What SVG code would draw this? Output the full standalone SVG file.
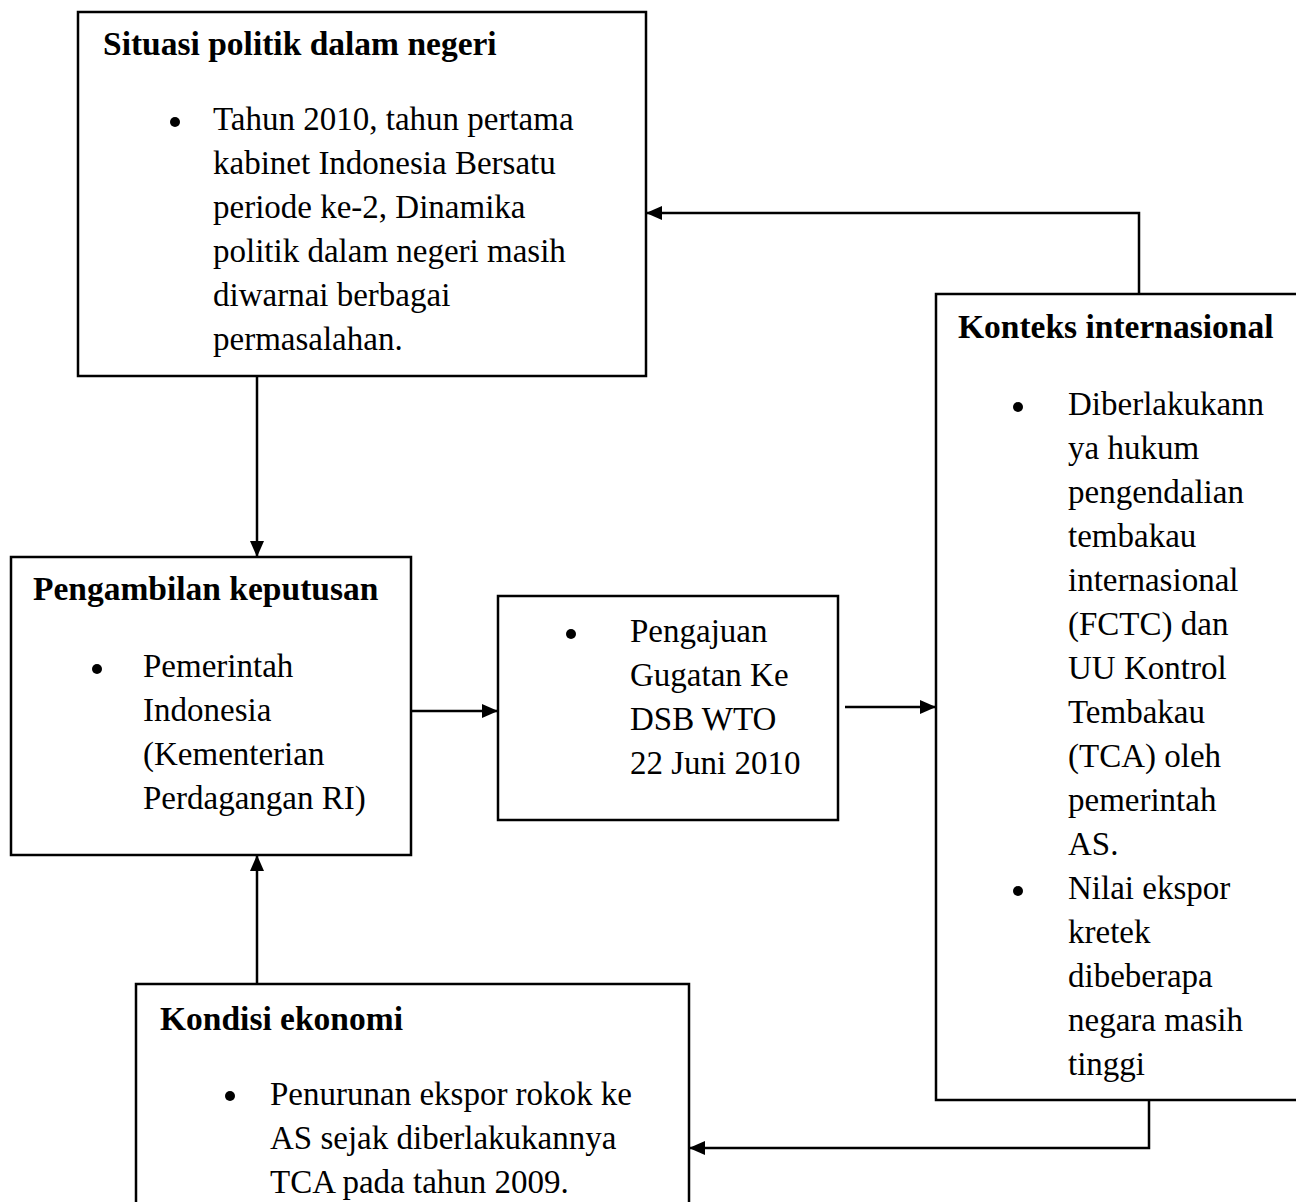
<svg xmlns="http://www.w3.org/2000/svg" width="1296" height="1202" viewBox="0 0 1296 1202">
<style>
.box{fill:#fff;stroke:#000;stroke-width:2.5}
.h{font-family:"Liberation Serif","Times New Roman",serif;font-weight:bold;font-size:33.5px;fill:#000}
.t{font-family:"Liberation Serif","Times New Roman",serif;font-size:33px;fill:#000}
.c{fill:none;stroke:#000;stroke-width:2.5}
</style>
<defs>
<marker id="ah" viewBox="0 0 16 14" refX="16" refY="7" markerWidth="16" markerHeight="14" markerUnits="userSpaceOnUse" orient="auto">
<path d="M0,0 L16,7 L0,14 z" fill="#000"/>
</marker>
</defs>
<rect width="1296" height="1202" fill="#fff"/>
<g id="connectors">
<path class="c" d="M257,376 V557" marker-end="url(#ah)"/>
<path class="c" d="M257,984 V855" marker-end="url(#ah)"/>
<path class="c" d="M411,711 H498" marker-end="url(#ah)"/>
<path class="c" d="M845,707 H936" marker-end="url(#ah)"/>
<path class="c" d="M1139,294 V213 H646" marker-end="url(#ah)"/>
<path class="c" d="M1149,1100 V1148 H689" marker-end="url(#ah)"/>
</g>
<g id="situasi">
<rect class="box" x="78" y="12" width="568" height="364"/>
<text class="h" x="103" y="55">Situasi politik dalam negeri</text>
<circle cx="175" cy="122" r="5"/>
<text class="t" x="213" y="130">Tahun 2010, tahun pertama</text>
<text class="t" x="213" y="174">kabinet Indonesia Bersatu</text>
<text class="t" x="213" y="218">periode ke-2, Dinamika</text>
<text class="t" x="213" y="262">politik dalam negeri masih</text>
<text class="t" x="213" y="306">diwarnai berbagai</text>
<text class="t" x="213" y="350">permasalahan.</text>
</g>
<g id="pengambilan">
<rect class="box" x="11" y="557" width="400" height="298"/>
<text class="h" x="33" y="600">Pengambilan keputusan</text>
<circle cx="97" cy="669" r="5"/>
<text class="t" x="143" y="677">Pemerintah</text>
<text class="t" x="143" y="721">Indonesia</text>
<text class="t" x="143" y="765">(Kementerian</text>
<text class="t" x="143" y="809">Perdagangan RI)</text>
</g>
<g id="pengajuan">
<rect class="box" x="498" y="596" width="340" height="224"/>
<circle cx="571" cy="634" r="5"/>
<text class="t" x="630" y="642">Pengajuan</text>
<text class="t" x="630" y="686">Gugatan Ke</text>
<text class="t" x="630" y="730">DSB WTO</text>
<text class="t" x="630" y="774">22 Juni 2010</text>
</g>
<g id="konteks">
<rect class="box" x="936" y="294" width="362" height="806"/>
<text class="h" x="958" y="338">Konteks internasional</text>
<circle cx="1018" cy="407" r="5"/>
<text class="t" x="1068" y="415">Diberlakukann</text>
<text class="t" x="1068" y="459">ya hukum</text>
<text class="t" x="1068" y="503">pengendalian</text>
<text class="t" x="1068" y="547">tembakau</text>
<text class="t" x="1068" y="591">internasional</text>
<text class="t" x="1068" y="635">(FCTC) dan</text>
<text class="t" x="1068" y="679">UU Kontrol</text>
<text class="t" x="1068" y="723">Tembakau</text>
<text class="t" x="1068" y="767">(TCA) oleh</text>
<text class="t" x="1068" y="811">pemerintah</text>
<text class="t" x="1068" y="855">AS.</text>
<circle cx="1018" cy="891" r="5"/>
<text class="t" x="1068" y="899">Nilai ekspor</text>
<text class="t" x="1068" y="943">kretek</text>
<text class="t" x="1068" y="987">dibeberapa</text>
<text class="t" x="1068" y="1031">negara masih</text>
<text class="t" x="1068" y="1075">tinggi</text>
</g>
<g id="kondisi">
<rect class="box" x="136" y="984" width="553" height="230"/>
<text class="h" x="160" y="1030">Kondisi ekonomi</text>
<circle cx="230" cy="1096" r="5"/>
<text class="t" x="270" y="1105">Penurunan ekspor rokok ke</text>
<text class="t" x="270" y="1149">AS sejak diberlakukannya</text>
<text class="t" x="270" y="1193">TCA pada tahun 2009.</text>
</g>
</svg>
